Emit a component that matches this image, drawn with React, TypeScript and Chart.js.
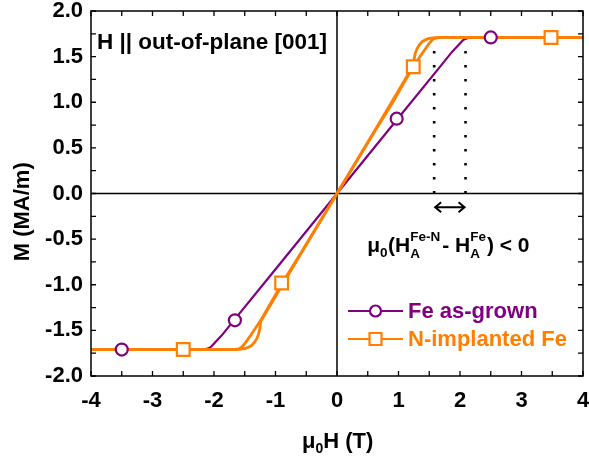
import React, { useEffect, useRef } from "react";
import { Chart, registerables } from "chart.js";

Chart.register(...registerables);

const FAMILY = "'Liberation Sans', Arial, Helvetica, sans-serif";
const PURPLE = "#800080";
const ORANGE = "#FF7F00";

// tick values
const xTickValues = [-4, -3, -2, -1, 0, 1, 2, 3, 4];
const yTickValues = [-2.0, -1.5, -1.0, -0.5, 0.0, 0.5, 1.0, 1.5, 2.0];

// Fe as-grown: full curve
const feH = [-4, -3, -2.3, -2.15, -2.09, -2.04, -1.98, -1.88, -1.7, -1.0, 0, 1.0, 1.7, 1.88, 1.98, 2.04, 2.09, 2.15, 2.3, 3, 4];
const feM = [-1.71, -1.71, -1.71, -1.708, -1.697, -1.675, -1.63, -1.56, -1.41, -0.83, 0, 0.83, 1.41, 1.56, 1.63, 1.675, 1.697, 1.708, 1.71, 1.71, 1.71];

// N-implanted Fe: descending branch (from +4 T to -4 T)
const nDescH = [4, 3, 2, 1.75, 1.6, 1.5, 1.44, 1.39, 1.34, 1.3, 1.275, 1.255, 1.24, 0.6, 0, -0.6, -0.89, -1.24, -1.4, -1.5, -1.55, -1.6, -1.7, -2, -3, -4];
const nDescM = [1.71, 1.71, 1.71, 1.71, 1.708, 1.7, 1.685, 1.665, 1.63, 1.585, 1.54, 1.48, 1.4, 0.675, 0.0, -0.665, -0.98, -1.39, -1.55, -1.645, -1.685, -1.703, -1.71, -1.71, -1.71, -1.71];

// N-implanted Fe: ascending branch (from -4 T to +4 T)
const nAscH = [-4, -3, -2, -1.75, -1.6, -1.5, -1.44, -1.39, -1.34, -1.3, -1.275, -1.255, -1.24, -0.6, 0, 0.6, 0.89, 1.24, 1.4, 1.5, 1.55, 1.6, 1.7, 2, 3, 4];
const nAscM = [-1.71, -1.71, -1.71, -1.71, -1.708, -1.7, -1.685, -1.665, -1.63, -1.585, -1.54, -1.48, -1.4, -0.675, 0.0, 0.665, 0.98, 1.39, 1.55, 1.645, 1.685, 1.703, 1.71, 1.71, 1.71, 1.71];

// markers
const feMarkH = [-3.5, -1.66, 0.97, 2.5];
const feMarkM = [-1.71, -1.39, 0.82, 1.71];
const nMarkH = [-2.5, -0.9, 1.24, 3.48];
const nMarkM = [-1.71, -0.98, 1.39, 1.71];

// anisotropy field guide lines
const guideH = [1.58, 2.09];
const guideTopM = 1.70;
const arrowM = -0.15;

const legendLabels = ["Fe as-grown", "N-implanted Fe"];
const titleText = "H || out-of-plane [001]";

const pts = (xs: number[], ys: number[]) => xs.map((x, i) => ({ x, y: ys[i] }));

const font = (size: number) => `bold ${size}px ${FAMILY}`;

const overlay = {
  id: "overlay",
  beforeDatasetsDraw(chart: any) {
    const { ctx, chartArea: a, scales } = chart;
    const x0 = scales.x.getPixelForValue(0);
    const y0 = scales.y.getPixelForValue(0);
    ctx.save();
    ctx.strokeStyle = "#000";
    ctx.lineWidth = 1.5;
    ctx.beginPath();
    ctx.moveTo(x0, a.top);
    ctx.lineTo(x0, a.bottom);
    ctx.moveTo(a.left, y0);
    ctx.lineTo(a.right, y0);
    ctx.stroke();
    ctx.restore();
  },
  afterDatasetsDraw(chart: any) {
    const { ctx, chartArea: a, scales } = chart;
    const sx = scales.x;
    const sy = scales.y;
    ctx.save();
    // frame
    ctx.strokeStyle = "#000";
    ctx.lineWidth = 1.5;
    ctx.strokeRect(a.left, a.top, a.right - a.left, a.bottom - a.top);
    // inward ticks
    ctx.lineWidth = 1.3;
    ctx.beginPath();
    for (let v = -4; v <= 4.0001; v += 0.5) {
      const px = sx.getPixelForValue(v);
      const len = 5;
      ctx.moveTo(px, a.bottom);
      ctx.lineTo(px, a.bottom - len);
      ctx.moveTo(px, a.top);
      ctx.lineTo(px, a.top + len);
    }
    for (let v = -2; v <= 2.0001; v += 0.25) {
      const py = sy.getPixelForValue(v);
      const len = 5;
      ctx.moveTo(a.left, py);
      ctx.lineTo(a.left + len, py);
      ctx.moveTo(a.right, py);
      ctx.lineTo(a.right - len, py);
    }
    ctx.stroke();

    ctx.fillStyle = "#000";
    ctx.textBaseline = "alphabetic";
    ctx.textAlign = "left";

    // title inside plot
    ctx.font = font(22.5);
    ctx.fillText(titleText, a.left + 6, a.top + 38);

    // double arrow
    const ax1 = sx.getPixelForValue(guideH[0]);
    const ax2 = sx.getPixelForValue(guideH[1]);
    const ay = sy.getPixelForValue(arrowM);
    ctx.lineWidth = 2;
    ctx.beginPath();
    ctx.moveTo(ax1 + 1, ay);
    ctx.lineTo(ax2 - 1, ay);
    ctx.moveTo(ax1 + 7, ay - 5);
    ctx.lineTo(ax1 + 1, ay);
    ctx.lineTo(ax1 + 7, ay + 5);
    ctx.moveTo(ax2 - 7, ay - 5);
    ctx.lineTo(ax2 - 1, ay);
    ctx.lineTo(ax2 - 7, ay + 5);
    ctx.stroke();

    // formula
    let fx = ax1 - 67;
    const fb = ay + 45;
    const main = 21;
    const small = 13.5;
    const put = (t: string, size: number, dy: number) => {
      ctx.font = font(size);
      ctx.fillText(t, fx, fb + dy);
      return ctx.measureText(t).width;
    };
    fx += put("\u03bc", main, 0);
    fx += put("0", small, 5) + 0.5;
    fx += put("(H", main, 0);
    {
      const w1 = put("Fe-N", small, -11);
      const w2 = put("A", small, 6);
      fx += Math.max(w1, w2) + 2;
    }
    fx += put("- H", main, 0);
    {
      const w1 = put("Fe", small, -11);
      const w2 = put("A", small, 6);
      fx += Math.max(w1, w2) + 1;
    }
    put(") < 0", main, 0);

    // legend
    const lx1 = a.right - 235;
    const lx2 = lx1 + 55;
    const lmid = (lx1 + lx2) / 2;
    const rows = [
      { y: a.bottom - 65, color: PURPLE, shape: "circle", label: legendLabels[0] },
      { y: a.bottom - 37, color: ORANGE, shape: "square", label: legendLabels[1] },
    ];
    for (const r of rows) {
      ctx.strokeStyle = r.color;
      ctx.lineWidth = 2.2;
      ctx.beginPath();
      ctx.moveTo(lx1, r.y);
      ctx.lineTo(lx2, r.y);
      ctx.stroke();
      ctx.fillStyle = "#fff";
      ctx.beginPath();
      if (r.shape === "circle") {
        ctx.arc(lmid, r.y, 5.5, 0, Math.PI * 2);
      } else {
        ctx.rect(lmid - 6, r.y - 6, 12, 12);
      }
      ctx.fill();
      ctx.stroke();
      ctx.fillStyle = r.color;
      ctx.font = font(22);
      ctx.textBaseline = "middle";
      ctx.fillText(r.label, lx2 + 5, r.y + 1);
      ctx.textBaseline = "alphabetic";
    }

    // x axis title
    ctx.fillStyle = "#000";
    let tx = sx.getPixelForValue(0) - 35;
    const tb = a.bottom + 72;
    ctx.font = font(22);
    ctx.fillText("\u03bc", tx, tb);
    tx += ctx.measureText("\u03bc").width;
    ctx.font = font(14);
    ctx.fillText("0", tx, tb + 5);
    tx += ctx.measureText("0").width;
    ctx.font = font(22);
    ctx.fillText("H (T)", tx, tb);

    // y axis title
    ctx.save();
    ctx.translate(23, sy.getPixelForValue(-0.2));
    ctx.rotate(-Math.PI / 2);
    ctx.textAlign = "center";
    ctx.textBaseline = "middle";
    ctx.font = font(22);
    ctx.fillText("M (MA/m)", 0, 0);
    ctx.restore();

    ctx.restore();
  },
};

export default function App() {
  const ref = useRef<HTMLCanvasElement | null>(null);
  useEffect(() => {
    if (!ref.current) return;
    const chart = new Chart(ref.current, {
      type: "line",
      data: {
        datasets: [
          {
            label: "Fe markers",
            data: pts(feMarkH, feMarkM),
            showLine: false,
            pointStyle: "circle",
            pointRadius: 6,
            pointBorderWidth: 2.2,
            pointBorderColor: PURPLE,
            pointBackgroundColor: "#fff",
            borderColor: PURPLE,
          },
          {
            label: "N markers",
            data: pts(nMarkH, nMarkM),
            showLine: false,
            pointStyle: "rect",
            pointRadius: 9,
            pointBorderWidth: 2.2,
            pointBorderColor: ORANGE,
            pointBackgroundColor: "#fff",
            borderColor: ORANGE,
          },
          {
            label: "N-implanted Fe (desc)",
            data: pts(nDescH, nDescM),
            borderColor: ORANGE,
            borderWidth: 2.8,
            pointRadius: 0,
            tension: 0,
          },
          {
            label: "N-implanted Fe (asc)",
            data: pts(nAscH, nAscM),
            borderColor: ORANGE,
            borderWidth: 2.8,
            pointRadius: 0,
            tension: 0,
          },
          {
            label: "Fe as-grown",
            data: pts(feH, feM),
            borderColor: PURPLE,
            borderWidth: 2.2,
            pointRadius: 0,
            tension: 0,
          },
          {
            label: "guide Fe-N",
            data: [
              { x: guideH[0], y: 0 },
              { x: guideH[0], y: guideTopM },
            ],
            borderColor: "#000",
            borderWidth: 2.6,
            borderDash: [2.6, 11.4],
            pointRadius: 0,
          },
          {
            label: "guide Fe",
            data: [
              { x: guideH[1], y: 0 },
              { x: guideH[1], y: guideTopM },
            ],
            borderColor: "#000",
            borderWidth: 2.6,
            borderDash: [2.6, 11.4],
            pointRadius: 0,
          },
        ],
      },
      options: {
        animation: false,
        responsive: true,
        maintainAspectRatio: false,
        layout: { autoPadding: false, padding: { top: 11, right: 6, left: 0, bottom: 0 } },
        plugins: { legend: { display: false }, tooltip: { enabled: false } },
        elements: { line: { borderCapStyle: "butt", borderJoinStyle: "round" } },
        scales: {
          x: {
            type: "linear",
            min: -4,
            max: 4,
            grid: { display: false, drawTicks: false },
            border: { display: false },
            afterBuildTicks: (s: any) => {
              s.ticks = xTickValues.map((v) => ({ value: v }));
            },
            afterFit: (s: any) => {
              s.height = 85;
              s.paddingLeft = 0;
              s.paddingRight = 0;
            },
            ticks: {
              color: "#000",
              padding: 12,
              maxRotation: 0,
              font: { family: FAMILY, size: 22, weight: "bold" },
              callback: (v: any) => String(v),
            },
          },
          y: {
            type: "linear",
            min: -2,
            max: 2,
            grid: { display: false, drawTicks: false },
            border: { display: false },
            afterBuildTicks: (s: any) => {
              s.ticks = yTickValues.map((v) => ({ value: v }));
            },
            afterFit: (s: any) => {
              s.width = 91;
              s.paddingTop = 0;
              s.paddingBottom = 0;
            },
            ticks: {
              color: "#000",
              padding: 8,
              font: { family: FAMILY, size: 22, weight: "bold" },
              callback: (v: any) => Number(v).toFixed(1),
            },
          },
        },
      } as any,
      plugins: [overlay],
    });
    return () => chart.destroy();
  }, []);
  return (
    <div style={{ position: "absolute", left: 0, top: 0, width: 589, height: 461, background: "#fff" }}>
      <canvas ref={ref} />
    </div>
  );
}
